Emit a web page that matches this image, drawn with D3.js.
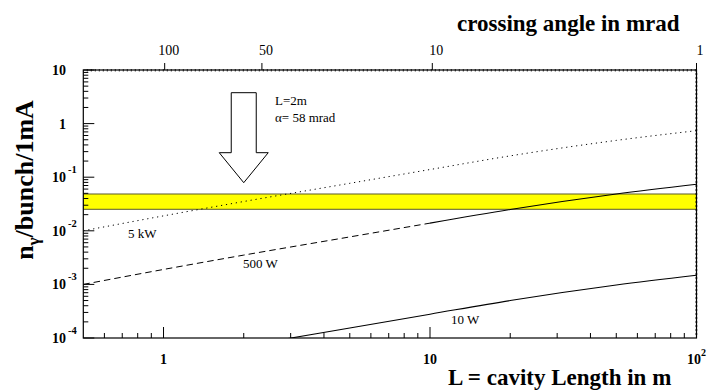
<!DOCTYPE html>
<html>
<head>
<meta charset="utf-8">
<script src="https://cdn.jsdelivr.net/npm/d3@7"></script>
<style>
  html, body { margin: 0; padding: 0; background: #fff; }
  svg { display: block; }
  text { font-family: "Liberation Serif", "Times New Roman", "DejaVu Serif", serif; fill: #000; }
</style>
</head>
<body>
<svg id="chart" width="708" height="390"></svg>
<script>
// Cavity length L in metres (sample points along each curve)
const lengthM = [0.5, 1, 2, 5, 10, 20, 50, 100];

// Photons per bunch per mA for three laser powers
const photons5kW  = [0.0100, 0.0190, 0.0352, 0.0769, 0.139, 0.250, 0.486, 0.738];
const photons500W = [0.00100, 0.00190, 0.00352, 0.00769, 0.0139, 0.0250, 0.0486, 0.0738];
const photons10W  = [0.0000200, 0.0000380, 0.0000704, 0.000154, 0.000278, 0.000500, 0.000972, 0.00148];

// 500 W curve is drawn dashed up to this length, solid beyond
const dashedUpTo = 10;

// Required photon band
const bandRange = [0.0252, 0.0486];

// Bottom axis ticks (value, base, exponent)
const xTickValues = [1, 10, 100];
const xTickBase   = ["1", "10", "10"];
const xTickExp    = ["", "", "2"];

// Left axis ticks
const yTickValues = [1e-4, 1e-3, 1e-2, 1e-1, 1, 10];
const yTickBase   = ["10", "10", "10", "10", "1", "10"];
const yTickExp    = ["-4", "-3", "-2", "-1", "", ""];

// Top axis: crossing angle (mrad) marked at the cavity length where it applies
const angleTickL      = [1.01, 2.34, 10.2, 100];
const angleTickLabels = ["100", "50", "10", "1"];

// Annotation
const markerL = 2;

const svg = d3.select("#chart");
const mLeft = 83.3, mRight = 696.5, mTop = 70, mBottom = 338;

const x = d3.scaleLog().domain([0.5, 100]).range([mLeft, mRight]);
const y = d3.scaleLog().domain([1e-4, 10]).range([mBottom, mTop]);

svg.append("defs").append("clipPath").attr("id", "plotClip")
  .append("rect").attr("x", mLeft).attr("y", mTop)
  .attr("width", mRight - mLeft).attr("height", mBottom - mTop);

const plot = svg.append("g").attr("clip-path", "url(#plotClip)");

// Yellow band
plot.append("rect")
  .attr("x", mLeft).attr("width", mRight - mLeft)
  .attr("y", y(bandRange[1])).attr("height", y(bandRange[0]) - y(bandRange[1]))
  .attr("fill", "#ffff00").attr("stroke", "#5a5a2a").attr("stroke-width", 1);

const line = d3.line()
  .x(d => x(d[0])).y(d => y(d[1]))
  .curve(d3.curveMonotoneX);

function pairs(vals) { return lengthM.map((L, i) => [L, vals[i]]); }

// 5 kW dotted
plot.append("path").datum(pairs(photons5kW)).attr("d", line)
  .attr("fill", "none").attr("stroke", "#000").attr("stroke-width", 1)
  .attr("stroke-dasharray", "1.2,3.8");

// 500 W: dashed part then solid part
const p500 = pairs(photons500W);
plot.append("path").datum(p500.filter(d => d[0] <= dashedUpTo)).attr("d", line)
  .attr("fill", "none").attr("stroke", "#000").attr("stroke-width", 1)
  .attr("stroke-dasharray", "6.5,4");
plot.append("path").datum(p500.filter(d => d[0] >= dashedUpTo)).attr("d", line)
  .attr("fill", "none").attr("stroke", "#000").attr("stroke-width", 1.1);

// 10 W solid
plot.append("path").datum(pairs(photons10W)).attr("d", line)
  .attr("fill", "none").attr("stroke", "#000").attr("stroke-width", 1.1);

// Frame
svg.append("rect").attr("x", mLeft).attr("y", mTop)
  .attr("width", mRight - mLeft).attr("height", mBottom - mTop)
  .attr("fill", "none").attr("stroke", "#000").attr("stroke-width", 1.2);

// Bottom axis ticks (inside)
const xMinor = [];
[0.1, 1, 10].forEach(dec => { for (let k = 2; k <= 9; k++) { const v = dec * k; if (v > 0.5 && v < 100) xMinor.push(v); } });
const axisG = svg.append("g");
axisG.selectAll(".xmaj").data(xTickValues).join("line")
  .attr("x1", d => x(d)).attr("x2", d => x(d))
  .attr("y1", mBottom).attr("y2", mBottom - 11)
  .attr("stroke", "#000").attr("stroke-width", 1);
axisG.selectAll(".xmin").data(xMinor).join("line")
  .attr("x1", d => x(d)).attr("x2", d => x(d))
  .attr("y1", mBottom).attr("y2", mBottom - 5)
  .attr("stroke", "#000").attr("stroke-width", 1);

// Left axis ticks (inside)
const yMinor = [];
[1e-4, 1e-3, 1e-2, 1e-1, 1].forEach(dec => { for (let k = 2; k <= 9; k++) yMinor.push(dec * k); });
axisG.selectAll(".ymaj").data(yTickValues).join("line")
  .attr("x1", mLeft).attr("x2", mLeft + 11)
  .attr("y1", d => y(d)).attr("y2", d => y(d))
  .attr("stroke", "#000").attr("stroke-width", 1);
axisG.selectAll(".ymin").data(yMinor).join("line")
  .attr("x1", mLeft).attr("x2", mLeft + 5)
  .attr("y1", d => y(d)).attr("y2", d => y(d))
  .attr("stroke", "#000").attr("stroke-width", 1);

// Dense fine ticks along top and right edges
const fineTop = d3.range(mLeft + 4, mRight, 4);
axisG.selectAll(".ftop").data(fineTop).join("line")
  .attr("x1", d => d).attr("x2", d => d)
  .attr("y1", mTop - 1).attr("y2", mTop + 1.5)
  .attr("stroke", "#000").attr("stroke-width", 0.8);
const fineRight = d3.range(mTop + 4, mBottom, 4);
axisG.selectAll(".fright").data(fineRight).join("line")
  .attr("x1", mRight - 1.5).attr("x2", mRight + 1)
  .attr("y1", d => d).attr("y2", d => d)
  .attr("stroke", "#000").attr("stroke-width", 0.8);

// Top axis major ticks (outside) and labels
axisG.selectAll(".ttick").data(angleTickL).join("line")
  .attr("x1", d => x(d)).attr("x2", d => x(d))
  .attr("y1", mTop).attr("y2", mTop - 7)
  .attr("stroke", "#000").attr("stroke-width", 1);
axisG.selectAll(".tlab").data(angleTickL).join("text")
  .attr("x", (d, i) => x(d) + (i === angleTickL.length - 1 ? 0 : 4))
  .attr("y", 55)
  .attr("text-anchor", (d, i) => i === angleTickL.length - 1 ? "start" : "middle")
  .attr("font-size", 14)
  .text((d, i) => angleTickLabels[i]);

// Bottom tick labels
const xl = axisG.selectAll(".xlab").data(xTickValues).join("text")
  .attr("x", d => x(d)).attr("y", 364)
  .attr("font-size", 14).attr("font-weight", "bold")
  .attr("text-anchor", "middle");
xl.append("tspan").text((d, i) => xTickBase[i]);
xl.append("tspan").attr("dy", -8).attr("font-size", 10).text((d, i) => xTickExp[i]);

// Left tick labels
const yl = axisG.selectAll(".ylab").data(yTickValues).join("g")
  .attr("transform", d => `translate(66, ${y(d) + 5})`);
yl.append("text").attr("text-anchor", "end")
  .attr("font-size", 14).attr("font-weight", "bold")
  .text((d, i) => yTickBase[i]);
yl.append("text").attr("x", 2).attr("y", -9)
  .attr("font-size", 10.5).attr("font-weight", "bold")
  .text((d, i) => yTickExp[i]);

// Titles
svg.append("text").attr("x", 457).attr("y", 31)
  .attr("font-size", 23).attr("font-weight", "bold")
  .text("crossing angle in mrad");
svg.append("text").attr("x", 448).attr("y", 385)
  .attr("font-size", 23).attr("font-weight", "bold")
  .text("L = cavity Length in m");
const yt = svg.append("text")
  .attr("transform", "translate(33, 180) rotate(-90)")
  .attr("text-anchor", "middle")
  .attr("font-size", 26).attr("font-weight", "bold");
yt.append("tspan").text("n");
yt.append("tspan").attr("dy", 6).attr("font-size", 17).text("γ");
yt.append("tspan").attr("dy", -6).text("/bunch/1mA");

// Curve labels
svg.append("text").attr("x", 128).attr("y", 238).attr("font-size", 13).text("5 kW");
svg.append("text").attr("x", 243).attr("y", 268).attr("font-size", 13).text("500 W");
svg.append("text").attr("x", 451).attr("y", 324).attr("font-size", 13).text("10 W");

// Hollow arrow marking L = 2 m
const ax = x(markerL);
const arrow = d3.path();
arrow.moveTo(ax - 12.5, 92.7);
arrow.lineTo(ax + 12.5, 92.7);
arrow.lineTo(ax + 12.5, 152.7);
arrow.lineTo(ax + 24.5, 152.7);
arrow.lineTo(ax, 182.7);
arrow.lineTo(ax - 24.5, 152.7);
arrow.lineTo(ax - 12.5, 152.7);
arrow.closePath();
svg.append("path").attr("d", arrow.toString())
  .attr("fill", "#fff").attr("stroke", "#000").attr("stroke-width", 1);

svg.append("text").attr("x", 275).attr("y", 105).attr("font-size", 13).text("L=2m");
svg.append("text").attr("x", 275).attr("y", 122).attr("font-size", 13).text("α= 58 mrad");
</script>
</body>
</html>
